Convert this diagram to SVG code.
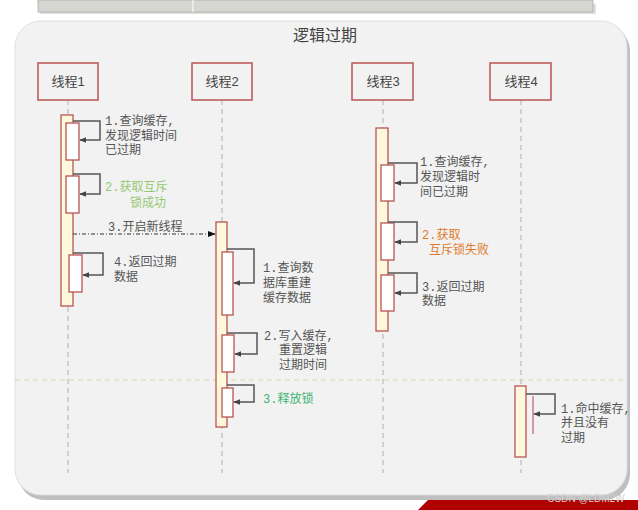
<svg xmlns="http://www.w3.org/2000/svg" width="638" height="510" viewBox="0 0 638 510">
<style>
.hdr{fill:#f2f2f2;stroke:#b85450;stroke-width:1.5}
.hdrt{font-family:"Liberation Sans","Noto Sans CJK SC",sans-serif;font-size:13px;fill:#444;text-anchor:middle}
.life{stroke:#bdbdbd;stroke-width:1.3;stroke-dasharray:5,4;fill:none}
.act{fill:#fff8dc;stroke:#b85450;stroke-width:1.3}
.sub{fill:#ffffff;stroke:#b85450;stroke-width:1.3}
.loop{fill:none;stroke:#555;stroke-width:1.5}
.t{font-family:"Liberation Mono","Noto Sans CJK SC",monospace;font-size:12px;fill:#555}
.g1{fill:#92c970}
.g2{fill:#3cb371}
.o{fill:#e07b2a}
</style>
<defs>
<marker id="ah" viewBox="0 0 10 10" refX="9" refY="5" markerWidth="7" markerHeight="7" orient="auto" markerUnits="userSpaceOnUse"><path d="M0,1 L10,5 L0,9 z" fill="#444"/></marker>
<marker id="ah2" viewBox="0 0 10 10" refX="9" refY="5" markerWidth="8" markerHeight="8" orient="auto" markerUnits="userSpaceOnUse"><path d="M0,1 L10,5 L0,9 z" fill="#111"/></marker>
</defs>
<rect width="638" height="510" fill="#ffffff"/>
<!-- top table fragment -->
<rect x="40" y="4" width="556" height="10" fill="#c8c8c8" opacity="0.6"/>
<rect x="38" y="0" width="555" height="12" fill="#d6d6d2" stroke="#aaa" stroke-width="0.8"/>
<line x1="193" y1="0" x2="193" y2="12" stroke="#f0f0f0" stroke-width="1.5"/>
<!-- panel -->
<rect x="18" y="25" width="612" height="475" rx="26" fill="#bfbfbf"/>
<rect x="15" y="21" width="612" height="474" rx="26" fill="#f2f2f2" stroke="#e0e0e0" stroke-width="1"/>
<text x="325" y="41" font-family="Noto Sans CJK SC, sans-serif" font-size="16" fill="#444" text-anchor="middle">逻辑过期</text>
<line x1="15" y1="380" x2="627" y2="380" stroke="#d9d6a8" stroke-width="1.2" stroke-dasharray="5,4"/>
<!-- lifelines -->
<g id="lifelines">
<line class="life" x1="68" y1="100" x2="68" y2="473"/>
<line class="life" x1="222" y1="100" x2="222" y2="473"/>
<line class="life" x1="383" y1="100" x2="383" y2="473"/>
<line class="life" x1="521" y1="100" x2="521" y2="473"/>
</g>
<g id="thread1">
<rect class="hdr" x="38" y="63" width="60" height="37"/>
<text class="hdrt" x="68" y="86">线程1</text>
<rect class="act" x="61" y="115" width="12" height="191"/>
<rect class="sub" x="66" y="123" width="13" height="37"/>
<rect class="sub" x="66" y="176" width="13" height="37"/>
<rect class="sub" x="69" y="255" width="13" height="37"/>
</g>
<g id="thread2">
<rect class="hdr" x="192" y="63" width="60" height="37"/>
<text class="hdrt" x="222" y="86">线程2</text>
<rect class="act" x="216" y="222" width="11" height="205"/>
<rect class="sub" x="222" y="252" width="11" height="63"/>
<rect class="sub" x="222" y="335" width="12" height="37"/>
<rect class="sub" x="222" y="388" width="11" height="29"/>
</g>
<g id="thread3">
<rect class="hdr" x="352" y="63" width="61" height="37"/>
<text class="hdrt" x="383" y="86">线程3</text>
<rect class="act" x="376" y="128" width="12" height="203"/>
<rect class="sub" x="381" y="165" width="13" height="36"/>
<rect class="sub" x="381" y="223" width="13" height="37"/>
<rect class="sub" x="381" y="275" width="13" height="36"/>
</g>
<g id="thread4">
<rect class="hdr" x="490" y="63" width="61" height="37"/>
<text class="hdrt" x="521" y="86">线程4</text>
<rect class="act" x="515" y="386" width="11" height="71"/>
<line x1="533" y1="396" x2="533" y2="434" stroke="#c06070" stroke-width="1.2"/>
</g>
<g id="connectors">
<path class="loop" d="M73,121 H100 V140 H80" marker-end="url(#ah)"/>
<path class="loop" d="M73,174 H100 V194 H80" marker-end="url(#ah)"/>
<path class="loop" d="M73,253 H103 V275 H83" marker-end="url(#ah)"/>
<path d="M73,234 H215" fill="none" stroke="#333" stroke-width="1" stroke-dasharray="4,2,1,2" marker-end="url(#ah2)"/>
<path class="loop" d="M227,249 H254 V283 H234" marker-end="url(#ah)"/>
<path class="loop" d="M227,333 H257 V354 H235" marker-end="url(#ah)"/>
<path class="loop" d="M227,385 H254 V402 H234" marker-end="url(#ah)"/>
<path class="loop" d="M388,163 H417 V183 H395" marker-end="url(#ah)"/>
<path class="loop" d="M388,222 H417 V242 H395" marker-end="url(#ah)"/>
<path class="loop" d="M388,273 H417 V293 H395" marker-end="url(#ah)"/>
<path class="loop" d="M526,394 H555 V414 H534" marker-end="url(#ah)"/>
</g>
<g id="labels">
<text class="t" x="105" y="125">1.查询缓存,</text>
<text class="t" x="105" y="140">发现逻辑时间</text>
<text class="t" x="105" y="154">已过期</text>
<text class="t g1" x="105" y="191">2.获取互斥</text>
<text class="t g1" x="130" y="207">锁成功</text>
<text class="t" x="108" y="231">3.开启新线程</text>
<text class="t" x="114" y="266">4.返回过期</text>
<text class="t" x="114" y="281">数据</text>
<text class="t" x="263" y="272">1.查询数</text>
<text class="t" x="263" y="287">据库重建</text>
<text class="t" x="263" y="302">缓存数据</text>
<text class="t" x="264" y="340">2.写入缓存,</text>
<text class="t" x="279" y="354">重置逻辑</text>
<text class="t" x="279" y="369">过期时间</text>
<text class="t g2" x="263" y="403">3.释放锁</text>
<text class="t" x="420" y="166">1.查询缓存,</text>
<text class="t" x="420" y="181">发现逻辑时</text>
<text class="t" x="420" y="196">间已过期</text>
<text class="t o" x="422" y="239">2.获取</text>
<text class="t o" x="429" y="254">互斥锁失败</text>
<text class="t" x="422" y="291">3.返回过期</text>
<text class="t" x="422" y="305">数据</text>
<text class="t" x="561" y="413">1.命中缓存,</text>
<text class="t" x="561" y="427">并且没有</text>
<text class="t" x="561" y="442">过期</text>
</g>
<!-- bottom banner -->
<path d="M428,500 H638 V510 H418 Z" fill="#b00000"/>
<text x="586" y="502" font-family="Liberation Sans, sans-serif" font-size="10" fill="#d0d0d0" text-anchor="middle">CSDN @LDM2W</text>
</svg>
